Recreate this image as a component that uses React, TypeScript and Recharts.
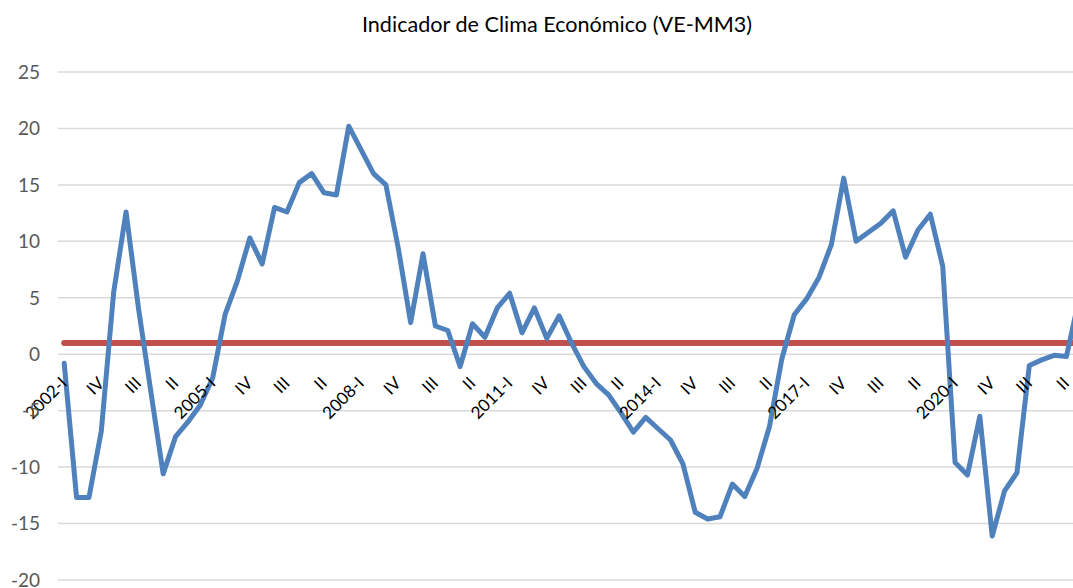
import React from 'react';
import { LineChart, Line, XAxis, YAxis, CartesianGrid, ReferenceLine } from 'recharts';

// quarters 2002-I .. 2022-III
const years = [2002, 2003, 2004, 2005, 2006, 2007, 2008, 2009, 2010, 2011, 2012, 2013, 2014, 2015, 2016, 2017, 2018, 2019, 2020, 2021, 2022];
const quarters = ['I', 'II', 'III', 'IV'];

const clima = [
    -0.8, -12.7, -12.7, -6.8, 5.5, 12.6, 4.1, -3.3, -10.6, -7.3,
    -6.0, -4.5, -2.1, 3.5, 6.5, 10.3, 8.0, 13.0, 12.6, 15.2,
    16.0, 14.3, 14.1, 20.2, 18.1, 16.0, 15.0, 9.4, 2.8, 8.9,
    2.5, 2.1, -1.1, 2.7, 1.5, 4.1, 5.4, 1.9, 4.1, 1.4,
    3.4, 1.0, -1.1, -2.6, -3.6, -5.2, -6.9, -5.6, -6.6, -7.6,
    -9.7, -14.0, -14.6, -14.4, -11.5, -12.6, -10.1, -6.4, -0.4, 3.5,
    4.9, 6.8, 9.7, 15.6, 10.0, 10.8, 11.6, 12.7, 8.6, 11.0,
    12.4, 7.8, -9.6, -10.7, -5.5, -16.1, -12.1, -10.5, -1.0, -0.5,
    -0.1, -0.2, 4.8,
];

const umbral = 1;
const yTicks = [-20, -15, -10, -5, 0, 5, 10, 15, 20, 25];
const Y_MIN = -20;
const Y_MAX = 25;

const categorias = years.flatMap((y) => quarters.map((q) => `${y}-${q}`)).slice(0, clima.length);
const data = categorias.map((q, i) => ({ q, clima: clima[i] }));

const PLOT_TOP = 72;
const PLOT_H = 508;
const ZERO_Y = PLOT_TOP + PLOT_H * (Y_MAX / (Y_MAX - Y_MIN));

const etiqueta = (c: string) => (c.endsWith('-I') ? c : c.split('-')[1]);

const renderXTick = (props: any) => {
    const { x, payload, index } = props;
    const ax = Number(x) + 4;
    const ay = ZERO_Y + 30;
    return (
        <text key={`xt-${index}`} x={ax} y={ay} textAnchor="end" fill="#000" fontSize={17}
            fontFamily="Lato, 'Open Sans', sans-serif" transform={`rotate(-45 ${ax} ${ay})`}>
            {etiqueta(payload.value)}
        </text>
    );
};

export default function App() {
    return (
        <div style={{ position: 'absolute', left: 0, top: 0, width: 1073, height: 588, overflow: 'hidden', background: '#fff' }}>
            <div style={{
                position: 'absolute', left: 0, top: 11, width: 1114, textAlign: 'center',
                fontFamily: "Lato, 'Open Sans', sans-serif", fontSize: 21.6, color: '#000',
            }}>
                Indicador de Clima Económico (VE-MM3)
            </div>
            <LineChart width={1085} height={588} data={data} margin={{ top: PLOT_TOP, right: 0, left: 0, bottom: 7 }}>
                <CartesianGrid vertical={false} stroke="#d9d9d9" strokeWidth={1.5} />
                <XAxis
                    dataKey="q"
                    interval={2}
                    height={1}
                    tick={renderXTick}
                    tickLine={false}
                    axisLine={false}
                    padding={{ left: 6.19, right: 6.19 }}
                />
                <YAxis
                    width={58}
                    domain={[Y_MIN, Y_MAX]}
                    ticks={yTicks}
                    interval={0}
                    tickLine={false}
                    axisLine={false}
                    tickMargin={12}
                    tick={{ fill: '#595959', fontSize: 19, fontFamily: "Lato, 'Open Sans', sans-serif" }}
                />
                <ReferenceLine
                    segment={[{ x: categorias[0], y: umbral }, { x: categorias[categorias.length - 1], y: umbral }]}
                    stroke="#c0504d"
                    strokeWidth={6}
                    strokeLinecap="round"
                />
                <Line
                    type="linear"
                    dataKey="clima"
                    stroke="#4f81bd"
                    strokeWidth={5}
                    strokeLinejoin="round"
                    strokeLinecap="round"
                    dot={false}
                    isAnimationActive={false}
                />
            </LineChart>
        </div>
    );
}
